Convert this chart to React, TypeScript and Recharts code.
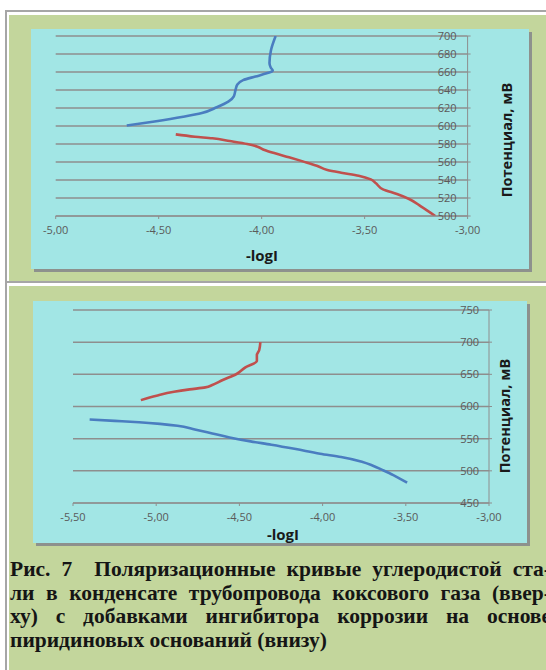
import { LineChart, Line, XAxis, YAxis, CartesianGrid, Label } from "recharts"

// upper plot: steel in coke-gas condensate, no inhibitor
const upperXTicks = [-5, -4.5, -4, -3.5, -3]
const upperYTicks = [500, 520, 540, 560, 580, 600, 620, 640, 660, 680, 700]

const upperAnodicMv = [600.5, 605, 610.3, 614.5, 620.8, 627, 633, 640, 646, 651, 655, 658.5, 661.5, 665, 670, 684, 700]
const upperAnodicLogI = [-4.655, -4.52, -4.381, -4.29, -4.218, -4.162, -4.135, -4.127, -4.118, -4.09, -4.03, -3.976, -3.946, -3.956, -3.962, -3.955, -3.932]

const upperCathodicMv = [500, 510.4, 518.9, 524.4, 529.6, 536.3, 540.7, 544.8, 548.1, 551.1, 555.9, 560.7, 565.2, 569.6, 573.3, 577, 580, 583.3, 586.3, 588.1, 590.7]
const upperCathodicLogI = [-3.157, -3.225, -3.284, -3.343, -3.411, -3.445, -3.47, -3.529, -3.614, -3.681, -3.732, -3.8, -3.867, -3.935, -3.986, -4.02, -4.07, -4.155, -4.239, -4.324, -4.417]

// lower plot: with pyridine-base inhibitor
const lowerXTicks = [-5.5, -5, -4.5, -4, -3.5, -3]
const lowerYTicks = [450, 500, 550, 600, 650, 700, 750]

const lowerAnodicMv = [609.9, 616.8, 622.9, 626.6, 629.7, 633.3, 641.2, 650.5, 660.9, 670.7, 680, 687.7, 700]
const lowerAnodicLogI = [-5.092, -4.998, -4.893, -4.799, -4.705, -4.663, -4.6, -4.517, -4.464, -4.395, -4.395, -4.381, -4.374]

const lowerCathodicMv = [481.5, 493.4, 501.1, 508.4, 514.1, 521.4, 526.5, 533.8, 540.6, 545.8, 551.9, 558.1, 564.3, 570, 573, 575.6, 577.7, 579.8]
const lowerCathodicLogI = [-3.492, -3.575, -3.638, -3.701, -3.764, -3.889, -4.015, -4.161, -4.308, -4.433, -4.559, -4.663, -4.768, -4.872, -4.977, -5.103, -5.249, -5.4]

const captionLines = [
  "Рис. 7\u00a0 Поляризационные кривые углеродистой ста-",
  "ли в конденсате трубопровода коксового газа (ввер-",
  "ху) с добавками ингибитора коррозии на основе",
  "пиридиновых оснований (внизу)",
]

const toPoints = (logI: number[], mv: number[]) => logI.map((x, i) => ({ logI: x, mv: mv[i] }))

const BLUE = "#4a7dc0"
const RED = "#c0504d"
const GRID = "#8e8e8e"
const TICK = "#5a5a5a"
const SANS = "'Open Sans', 'DejaVu Sans', sans-serif"

const comma = (v: number) => v.toFixed(2).replace(".", ",")

// y labels sit on the inner side of the right-hand axis
function InsideTick(props: any) {
  const { x, y, payload, gap } = props
  return (
    <text x={x - 3 - 2 - gap} y={y} dy="0.36em" textAnchor="end" fontSize={11} fill={TICK} fontFamily={SANS}>
      {payload.value}
    </text>
  )
}

type PlotProps = {
  width: number
  height: number
  margin: { top: number; right: number; bottom: number; left: number }
  xDomain: [number, number]
  xTicks: number[]
  yDomain: [number, number]
  yTicks: number[]
  yAxisWidth: number
  xAxisHeight: number
  tickGap: number
  xTitle: { x: number; y: number }
  yTitle: { x: number; y: number }
  blue: { logI: number; mv: number }[]
  red: { logI: number; mv: number }[]
}

function PolarizationPlot(p: PlotProps) {
  return (
    <LineChart width={p.width} height={p.height} margin={p.margin}>
      <CartesianGrid vertical={false} stroke={GRID} strokeWidth={1.5} />
      <XAxis
        type="number"
        dataKey="logI"
        domain={p.xDomain}
        ticks={p.xTicks}
        interval={0}
        allowDataOverflow
        height={p.xAxisHeight}
        tickFormatter={comma}
        tickSize={3}
        tickMargin={7}
        stroke={GRID}
        tick={{ fill: TICK, fontSize: 11, fontFamily: SANS }}
      >
        <Label
          content={() => (
            <text x={p.xTitle.x} y={p.xTitle.y} textAnchor="middle" dominantBaseline="central" fontSize={15} fontWeight="bold" fill="#1a1a1a" fontFamily={SANS}>
              -logI
            </text>
          )}
        />
      </XAxis>
      <YAxis
        type="number"
        orientation="right"
        domain={p.yDomain}
        ticks={p.yTicks}
        interval={0}
        allowDataOverflow
        width={p.yAxisWidth}
        tickSize={3}
        tickMargin={2}
        stroke={GRID}
        tick={<InsideTick gap={p.tickGap} />}
      >
        <Label
          content={() => (
            <text
              x={p.yTitle.x}
              y={p.yTitle.y}
              textAnchor="middle"
              dominantBaseline="central"
              transform={`rotate(-90 ${p.yTitle.x} ${p.yTitle.y})`}
              fontSize={14.5}
              fontWeight="bold"
              fill="#1a1a1a"
              fontFamily={SANS}
            >
              Потенциал, мВ
            </text>
          )}
        />
      </YAxis>
      <Line data={p.blue} dataKey="mv" type="monotoneY" stroke={BLUE} strokeWidth={2.6} dot={false} isAnimationActive={false} />
      <Line data={p.red} dataKey="mv" type="monotoneY" stroke={RED} strokeWidth={2.6} dot={false} isAnimationActive={false} />
    </LineChart>
  )
}

const abs = (left: number, top: number, width: number, height: number, background: string): React.CSSProperties => ({
  position: "absolute",
  left,
  top,
  width,
  height,
  background,
})

export default function App() {
  const border = "#a6a6a6"
  const green = "#c3d69c"
  const cyan = "#a2e6e5"
  return (
    <div style={{ position: "absolute", left: 0, top: 0, width: 546, height: 670, overflow: "hidden", background: "#fff" }}>
      <div style={abs(5, 10, 2, 660, border)} />
      <div style={abs(5, 10, 541, 2, border)} />
      <div style={abs(9, 15, 537, 266, green)} />
      <div style={abs(7, 281, 539, 2, border)} />
      <div style={abs(9, 286, 537, 384, green)} />

      <div style={{ ...abs(31, 29, 498, 240, cyan), boxShadow: "3px 3px 0 #8d918d" }}>
        <PolarizationPlot
          width={498}
          height={240}
          margin={{ top: 7, right: 0, bottom: 0, left: 24.7 }}
          xDomain={[-5, -3]}
          xTicks={upperXTicks}
          yDomain={[500, 700]}
          yTicks={upperYTicks}
          yAxisWidth={61.4}
          xAxisHeight={53}
          tickGap={11}
          xTitle={{ x: 231, y: 226 }}
          yTitle={{ x: 475, y: 111 }}
          blue={toPoints(upperAnodicLogI, upperAnodicMv)}
          red={toPoints(upperCathodicLogI, upperCathodicMv)}
        />
      </div>

      <div style={{ ...abs(33, 301, 494, 242, cyan), boxShadow: "3px 3px 0 #8d918d" }}>
        <PolarizationPlot
          width={494}
          height={242}
          margin={{ top: 9, right: 0, bottom: 0, left: 40 }}
          xDomain={[-5.5, -3]}
          xTicks={lowerXTicks}
          yDomain={[450, 750]}
          yTicks={lowerYTicks}
          yAxisWidth={38}
          xAxisHeight={40}
          tickGap={10}
          xTitle={{ x: 250, y: 233 }}
          yTitle={{ x: 471, y: 115 }}
          blue={toPoints(lowerCathodicLogI, lowerCathodicMv)}
          red={toPoints(lowerAnodicLogI, lowerAnodicMv)}
        />
      </div>

      <div
        style={{
          position: "absolute",
          left: 10,
          top: 558,
          width: 541,
          fontFamily: "'Liberation Serif', 'Times New Roman', serif",
          fontWeight: "bold",
          fontSize: 21.5,
          lineHeight: "23.5px",
          color: "#151515",
        }}
      >
        {captionLines.map((line, i) => (
          <div key={i} style={{ whiteSpace: "nowrap", textAlign: "justify", textAlignLast: i < captionLines.length - 1 ? "justify" : "left" }}>
            {line}
          </div>
        ))}
      </div>
    </div>
  )
}
